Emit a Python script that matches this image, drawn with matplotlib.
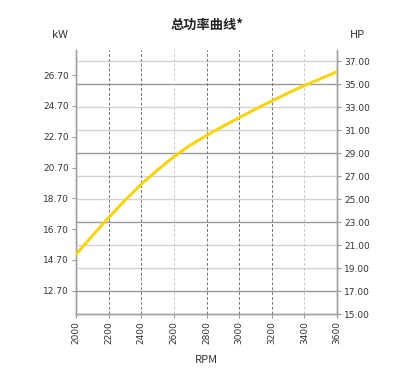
import matplotlib
matplotlib.use("Agg")
import matplotlib.pyplot as plt

plt.rcParams['font.family'] = ['Noto Sans CJK SC', 'DejaVu Sans']

rpm = [2000, 2100, 2200, 2300, 2400, 2500, 2600, 2700, 2800,
       2900, 3000, 3100, 3200, 3300, 3400, 3500, 3600]
power_hp = [20.2, 21.8, 23.4, 24.9, 26.3, 27.55, 28.7, 29.7, 30.55,
            31.35, 32.1, 32.85, 33.55, 34.25, 34.9, 35.5, 36.1]

rpm_ticks = [2000, 2200, 2400, 2600, 2800, 3000, 3200, 3400, 3600]
kw_ticks = [12.70, 14.70, 16.70, 18.70, 20.70, 22.70, 24.70, 26.70]
hp_ticks = [15, 17, 19, 21, 23, 25, 27, 29, 31, 33, 35, 37]
hp_dark = [17, 23, 29, 35]
rpm_light = [2600, 3400]

HP_TO_KW = 0.7457
hp_min, hp_max = 15, 38

fig = plt.figure(figsize=(4.15, 3.76), dpi=100)
ax = fig.add_axes([76 / 415, 1 - 314 / 376, 261 / 415, 264 / 376])
ax2 = ax.twinx()

ax.set_xlim(2000, 3600)
ax.set_ylim(hp_min * HP_TO_KW, hp_max * HP_TO_KW)
ax2.set_ylim(hp_min, hp_max)

# horizontal grid on HP ticks
for h in hp_ticks[1:]:
    c = "#9a9a9a" if h in hp_dark else "#d2d2d2"
    ax2.axhline(h, color=c, linewidth=1.0, zorder=1)

# vertical dashed grid
for r in rpm_ticks[1:-1]:
    c = "#c8c8c8" if r in rpm_light else "#747474"
    ax2.axvline(r, color=c, linewidth=0.7, linestyle=(0, (3, 2)), zorder=1)

ax2.plot(rpm, power_hp, color="#f7d40e", linewidth=2.2, zorder=3)

ax.set_xticks(rpm_ticks)
ax.set_xticklabels([str(r) for r in rpm_ticks], rotation=90, fontsize=6.5,
                   family="DejaVu Sans", color="#333333")
ax.set_yticks(kw_ticks)
ax.set_yticklabels(["%.2f" % v for v in kw_ticks], fontsize=6.5,
                   family="DejaVu Sans", color="#333333")
ax2.set_yticks(hp_ticks)
ax2.set_yticklabels(["%.2f" % v for v in hp_ticks], fontsize=6.5,
                    family="DejaVu Sans", color="#333333")

for a in (ax, ax2):
    a.tick_params(length=3, width=0.8, color="#999999", pad=2)
    a.spines["top"].set_visible(False)
    for s in ("left", "right", "bottom"):
        a.spines[s].set_color("#a0a0a0")
        a.spines[s].set_linewidth(1.0)

ax.set_xlabel("RPM", fontsize=8, color="#333333", labelpad=8)
fig.text(207 / 415, 1 - 25 / 376, "总功率曲线*", ha="center", va="center",
         fontsize=9.5, fontweight="bold", color="#222222")
fig.text(60 / 415, 1 - 35 / 376, "kW", ha="center", va="center",
         fontsize=8, color="#333333")
fig.text(357 / 415, 1 - 35 / 376, "HP", ha="center", va="center",
         fontsize=8, color="#333333")

fig.savefig("out.png", dpi=100)
